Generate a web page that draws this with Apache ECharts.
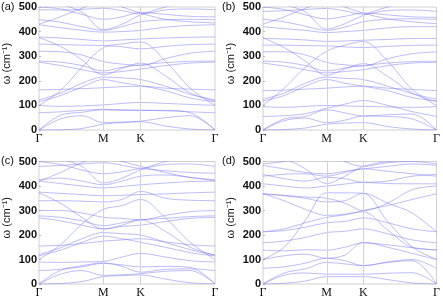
<!DOCTYPE html>
<html><head><meta charset="utf-8">
<script src="https://cdn.jsdelivr.net/npm/echarts@6/dist/echarts.min.js"></script>
<style>html,body{margin:0;padding:0;background:#fff}#c{width:443px;height:300px}</style>
</head><body><div id="c"></div>
<script>
// k-path positions (Γ, ΓM thirds, M, MK mid, K, KΓ thirds, Γ)
const kpath = [0, 0.192, 0.385, 0.577, 0.744, 0.911, 1.133, 1.355, 1.577];
const kTickPos = [0, 0.577, 0.911, 1.577];
const kTickLabels = ['Γ', 'M', 'K', 'Γ'];
const yTicks = [0, 100, 200, 300, 400, 500];
const panelLabels = ['(a)', '(b)', '(c)', '(d)'];

const bandsA = [
  [0, 1, 6, 24, 30, 34, 16, 4, 0],
  [0, 45, 58, 30, 32, 36, 50, 58, 0],
  [0, 60, 72, 82, 80, 80, 80, 70, 0],
  [70, 74, 80, 84, 82, 80, 78, 74, 70],
  [100, 96, 98, 102, 108, 112, 108, 104, 100],
  [115, 140, 175, 205, 192, 180, 160, 130, 115],
  [122, 150, 190, 215, 212, 205, 178, 145, 122],
  [163, 165, 168, 172, 176, 178, 170, 166, 163],
  [100, 160, 255, 335, 350, 358, 280, 170, 100],
  [376, 340, 285, 224, 250, 272, 220, 150, 118],
  [276, 262, 245, 232, 238, 248, 262, 272, 276],
  [280, 276, 262, 240, 255, 265, 274, 279, 280],
  [320, 318, 305, 278, 268, 262, 290, 312, 320],
  [349, 347, 345, 343, 338, 330, 340, 347, 349],
  [378, 374, 368, 362, 366, 370, 374, 377, 378],
  [428, 416, 405, 398, 400, 405, 418, 425, 428],
  [448, 438, 420, 405, 420, 440, 448, 450, 448],
  [430, 460, 495, 520, 500, 475, 450, 440, 435],
  [489, 488, 490, 495, 485, 472, 488, 492, 489],
  [530, 510, 480, 408, 430, 468, 500, 520, 530],
  [500, 492, 470, 450, 460, 478, 470, 462, 460]
];
const bandsB = [
  [0, 2, 8, 24, 28, 30, 14, 4, 0],
  [0, 38, 48, 30, 40, 57, 55, 45, 0],
  [0, 45, 55, 82, 70, 57, 62, 65, 0],
  [55, 58, 66, 88, 105, 120, 100, 75, 55],
  [95, 92, 96, 100, 98, 96, 94, 92, 95],
  [118, 140, 178, 205, 190, 178, 160, 132, 118],
  [125, 150, 190, 215, 210, 205, 178, 148, 125],
  [160, 162, 166, 170, 175, 178, 170, 165, 160],
  [100, 170, 255, 320, 345, 360, 280, 165, 100],
  [375, 335, 280, 222, 248, 270, 218, 150, 115],
  [272, 260, 245, 232, 238, 245, 262, 272, 275],
  [280, 276, 262, 240, 252, 262, 272, 278, 280],
  [318, 318, 305, 275, 265, 260, 290, 310, 318],
  [345, 345, 343, 342, 338, 335, 340, 344, 345],
  [372, 370, 366, 360, 362, 365, 368, 372, 372],
  [420, 412, 405, 396, 400, 405, 415, 420, 420],
  [450, 440, 422, 405, 418, 440, 450, 452, 450],
  [430, 460, 495, 520, 500, 475, 452, 440, 432],
  [482, 485, 490, 494, 484, 470, 486, 488, 482],
  [530, 510, 480, 410, 432, 466, 500, 520, 530],
  [500, 490, 468, 452, 462, 476, 468, 460, 458]
];
const bandsC = [
  [0, 2, 10, 30, 34, 37, 20, 5, 0],
  [0, 40, 55, 35, 38, 42, 52, 55, 0],
  [0, 55, 70, 84, 78, 70, 72, 68, 0],
  [55, 60, 75, 86, 72, 48, 60, 62, 55],
  [90, 88, 90, 92, 110, 125, 110, 95, 90],
  [115, 138, 170, 195, 185, 170, 150, 128, 115],
  [120, 148, 185, 210, 205, 200, 170, 140, 118],
  [155, 158, 165, 175, 180, 185, 172, 160, 155],
  [100, 160, 245, 305, 320, 345, 270, 170, 100],
  [372, 330, 272, 225, 240, 262, 215, 150, 118],
  [270, 258, 240, 225, 235, 240, 255, 268, 272],
  [278, 272, 258, 238, 250, 262, 268, 275, 278],
  [300, 300, 290, 272, 268, 262, 280, 295, 300],
  [340, 340, 338, 335, 345, 378, 350, 342, 340],
  [375, 370, 365, 360, 362, 365, 368, 372, 375],
  [420, 410, 400, 392, 398, 405, 412, 418, 420],
  [425, 432, 420, 405, 420, 440, 445, 435, 425],
  [420, 455, 495, 520, 500, 480, 455, 435, 422],
  [480, 484, 490, 495, 485, 472, 488, 490, 480],
  [530, 510, 480, 412, 432, 466, 500, 520, 530],
  [500, 488, 465, 450, 458, 470, 462, 455, 452]
];
const bandsD = [
  [0, 3, 12, 30, 30, 30, 18, 4, 0],
  [0, 36, 45, 40, 40, 40, 44, 46, 0],
  [0, 45, 62, 88, 82, 75, 88, 95, 0],
  [64, 70, 85, 105, 95, 75, 90, 100, 64],
  [100, 115, 122, 105, 118, 170, 150, 125, 100],
  [138, 135, 140, 138, 150, 168, 160, 148, 138],
  [100, 150, 260, 372, 372, 370, 255, 152, 100],
  [368, 340, 305, 280, 285, 295, 220, 150, 140],
  [213, 218, 232, 250, 255, 270, 250, 225, 213],
  [168, 175, 190, 210, 215, 225, 205, 180, 168],
  [213, 225, 250, 272, 282, 300, 320, 345, 368],
  [368, 360, 350, 335, 340, 370, 330, 290, 213],
  [409, 400, 392, 400, 408, 415, 410, 409, 409],
  [447, 430, 420, 435, 430, 415, 420, 440, 447],
  [484, 470, 455, 450, 460, 470, 480, 490, 484],
  [490, 500, 520, 540, 500, 480, 495, 500, 490],
  [440, 448, 450, 440, 455, 470, 460, 450, 440],
  [520, 510, 470, 410, 440, 480, 500, 510, 520],
  [368, 362, 355, 350, 330, 300, 330, 385, 400]
];
const allBands = [bandsA, bandsB, bandsC, bandsD];

const grids = [
  {left: 38, top: 7, width: 177, height: 123},
  {left: 263, top: 7, width: 176, height: 123},
  {left: 38, top: 161.5, width: 177, height: 122.5},
  {left: 263, top: 161.5, width: 176, height: 122.5}
];
const labelPos = [[1, 1], [222, 1], [1, 155], [222, 155]];

const chart = echarts.init(document.getElementById('c'));
const xAxes = [], yAxes = [], series = [], graphics = [];
grids.forEach((g, i) => {
  xAxes.push({
    type: 'value', gridIndex: i, min: 0, max: kpath[kpath.length - 1],
    axisLine: {show: false},
    axisTick: {show: false},
    splitLine: {show: false},
    axisLabel: {
      customValues: kTickPos,
      formatter: v => { const j = kTickPos.findIndex(p => Math.abs(p - v) < 1e-6); return j >= 0 ? kTickLabels[j] : ''; },
      fontFamily: 'Liberation Serif', fontSize: 12, color: '#111', margin: 3
    }
  });
  yAxes.push({
    type: 'value', gridIndex: i, min: yTicks[0], max: yTicks[yTicks.length - 1], interval: 100,
    name: 'ω (cm⁻¹)', nameLocation: 'middle', nameGap: 27, nameRotate: 90,
    nameTextStyle: {fontFamily: 'Liberation Sans', fontSize: 11, color: '#111', padding: [0, 0, 0, 10]},
    axisLine: {show: false},
    axisTick: {show: true, inside: true, length: 2, lineStyle: {color: '#bbb'}},
    splitLine: {show: false},
    axisLabel: {fontFamily: 'Liberation Sans', fontSize: 11, fontWeight: 'bold', color: '#111', margin: 2}
  });
  allBands[i].forEach((b, j) => {
    const s = {
      type: 'line', xAxisIndex: i, yAxisIndex: i, smooth: 0.35, symbol: 'none', silent: true,
      lineStyle: {color: '#7c7cf4', width: 1, opacity: 0.5},
      data: b.map((v, k) => [kpath[k], v])
    };
    if (j === 0) {
      s.markLine = {silent: true, symbol: 'none', label: {show: false},
        lineStyle: {color: '#d2d2d2', type: 'solid', width: 1, opacity: 1},
        data: [{xAxis: kTickPos[1]}, {xAxis: kTickPos[2]}]};
    }
    series.push(s);
  });
  graphics.push({type: 'text', left: labelPos[i][0], top: labelPos[i][1],
    style: {text: panelLabels[i], font: '11px "Liberation Sans"', fill: '#111'}});
});

chart.setOption({
  animation: false,
  grid: grids.map(g => Object.assign({show: true, borderColor: '#d0d0d0', borderWidth: 1, containLabel: false}, g)),
  xAxis: xAxes, yAxis: yAxes, series: series, graphic: graphics
});
</script>
</body></html>
